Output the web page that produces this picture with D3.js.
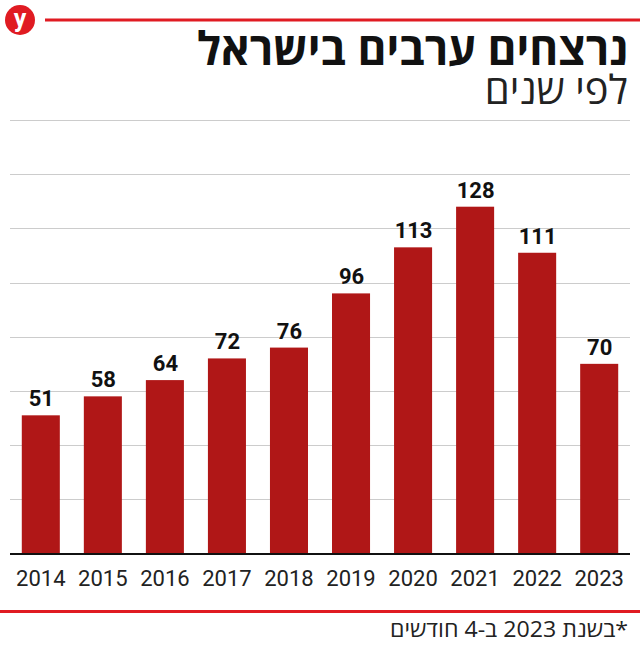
<!DOCTYPE html>
<html>
<head>
<meta charset="utf-8">
<script src="https://cdnjs.cloudflare.com/ajax/libs/d3/7.8.5/d3.min.js"></script>
<style>
html,body{margin:0;padding:0;background:#fff}
text{font-family:Roboto,"Open Sans",sans-serif}
.he{font-family:"Open Sans","Noto Sans",sans-serif}
</style>
</head>
<body>
<div id="chart"></div>
<script>
var years = ["2014","2015","2016","2017","2018","2019","2020","2021","2022","2023"]
var murders = [51,58,64,72,76,96,113,128,111,70]
var gridTicks = [0,20,40,60,80,100,120,140,160]

var width = 640, height = 648
var svg = d3.select("#chart").append("svg").attr("width",width).attr("height",height).style("display","block")

var x = d3.scaleBand().domain(years).range([10,630]).paddingInner(0.387).paddingOuter(0.19)
var y = d3.scaleLinear().domain([0,160]).range([553.5,120])

// grid
svg.append("g").selectAll("line").data(gridTicks).enter().append("line")
  .attr("x1",10).attr("x2",630)
  .attr("y1",d=>Math.round(y(d))+0.5).attr("y2",d=>Math.round(y(d))+0.5)
  .style("stroke","#cccccc").style("stroke-width",1)

// bars
svg.append("g").selectAll("rect").data(murders).enter().append("rect")
  .attr("x",(d,i)=>x(years[i]))
  .attr("y",d=>y(d))
  .attr("width",x.bandwidth())
  .attr("height",d=>y(0)-y(d))
  .style("fill","#b01717")

// values
svg.append("g").selectAll("text").data(murders).enter().append("text")
  .attr("x",(d,i)=>x(years[i])+x.bandwidth()/2+0.5)
  .attr("y",d=>y(d)-9)
  .attr("text-anchor","middle")
  .style("font-size","22px").style("font-weight","700").style("fill","#111")
  .text(d=>d)

// baseline
svg.append("line").attr("x1",10).attr("x2",630).attr("y1",554).attr("y2",554).style("stroke","#111").style("stroke-width",2)

// year labels
svg.append("g").selectAll("text").data(years).enter().append("text")
  .attr("x",d=>x(d)+x.bandwidth()/2)
  .attr("y",586)
  .attr("text-anchor","middle")
  .style("font-size","22px").style("fill","#222")
  .text(d=>d)

// header
svg.append("circle").attr("cx",20).attr("cy",20).attr("r",15).style("fill","#e01b22")
svg.append("text").attr("x",20).attr("y",27).attr("text-anchor","middle").style("font-size","25px").style("font-weight","700").style("fill","#fff").text("y")
svg.append("rect").attr("x",45).attr("y",18.5).attr("width",595).attr("height",3).style("fill","#e01b22")

// direction rtl flips the anchor, so start is the right hand edge
svg.append("text").attr("class","he").attr("x",628).attr("y",65).attr("text-anchor","start").attr("direction","rtl")
  .attr("textLength",431).attr("lengthAdjust","spacingAndGlyphs")
  .style("font-size","46px").style("font-weight","700").style("fill","#111").text("נרצחים ערבים בישראל")
svg.append("text").attr("class","he").attr("x",628).attr("y",104).attr("text-anchor","start").attr("direction","rtl")
  .style("font-size","40px").style("fill","#222").text("לפי שנים")

// footer
svg.append("rect").attr("x",0).attr("y",610).attr("width",640).attr("height",3).style("fill","#e01b22")
svg.append("text").attr("class","he").attr("x",628).attr("y",637).attr("text-anchor","start").attr("direction","rtl")
  .attr("textLength",238).attr("lengthAdjust","spacingAndGlyphs")
  .style("font-size","22px").style("fill","#222").text("*בשנת 2023 ב-4 חודשים")
</script>
</body>
</html>
